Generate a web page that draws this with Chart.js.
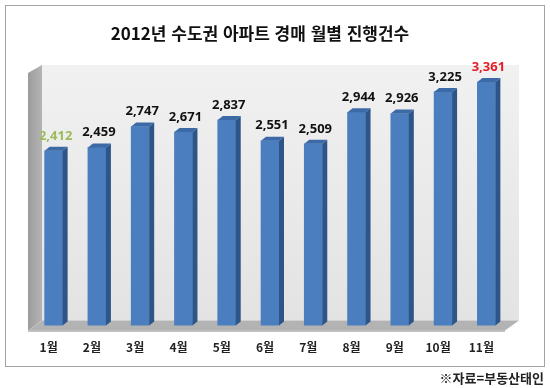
<!DOCTYPE html>
<html lang="ko">
<head>
<meta charset="utf-8">
<script src="https://cdn.jsdelivr.net/npm/chart.js@4.4.1/dist/chart.umd.min.js"></script>
<style>
  html, body { margin: 0; padding: 0; background: #fff; }
  #wrap { position: relative; width: 550px; height: 388px; overflow: hidden; }
  #frame { position: absolute; left: 5px; top: 5px; width: 538px; height: 360px; border: 1px solid #a3a3a3; pointer-events: none; }
  #title { position: absolute; left: 0; top: 20px; width: 520px; text-align: center;
           font: bold 17px "Noto Sans CJK KR", sans-serif; color: #111; }
  #source { position: absolute; right: 6px; top: 368px;
            font: bold 13px "Noto Sans CJK KR", sans-serif; color: #222; }
  canvas { position: absolute; left: 0; top: 0; }
</style>
</head>
<body>
<div id="wrap">
  <canvas id="chart" width="550" height="388"></canvas>
  <div id="frame"></div>
  <div id="title">2012년 수도권 아파트 경매 월별 진행건수</div>
  <div id="source">※자료=부동산태인</div>
</div>
<script>
// 데이터
const months = ['1월', '2월', '3월', '4월', '5월', '6월', '7월', '8월', '9월', '10월', '11월'];
const counts = [2412, 2459, 2747, 2671, 2837, 2551, 2509, 2944, 2926, 3225, 3361];
const yMax = 3500;

// 색상
const frontColor = '#4a7ebf';
const sideColor = '#2d5587';
const topColor = '#3b6aa6';

// 3D 배경 (벽, 바닥)
const scenePlugin = {
    id: 'scene3d',
    beforeDatasetsDraw(chart) {
        const { ctx, chartArea } = chart;
        const { left, right, top, bottom } = chartArea;
        const bx0 = left + 10, bx1 = right + 11, by0 = top - 7, by1 = bottom - 5;
        const fx0 = left - 4, fx1 = right - 3, fy1 = bottom + 5;

        ctx.save();
        // 뒷벽
        let g = ctx.createLinearGradient(0, by0, 0, by1);
        g.addColorStop(0, '#f1f1f1');
        g.addColorStop(1, '#e3e3e3');
        ctx.fillStyle = g;
        ctx.fillRect(bx0, by0, bx1 - bx0, by1 - by0);

        // 왼쪽 벽
        g = ctx.createLinearGradient(fx0, 0, bx0, 0);
        g.addColorStop(0, '#9c9c9c');
        g.addColorStop(1, '#b4b4b4');
        ctx.fillStyle = g;
        ctx.beginPath();
        ctx.moveTo(fx0, top + 1);
        ctx.lineTo(bx0, by0);
        ctx.lineTo(bx0, by1);
        ctx.lineTo(fx0, fy1);
        ctx.closePath();
        ctx.fill();

        // 바닥
        ctx.fillStyle = '#b3b3b3';
        ctx.beginPath();
        ctx.moveTo(fx0, fy1);
        ctx.lineTo(bx0, by1);
        ctx.lineTo(bx1, by1);
        ctx.lineTo(fx1, fy1);
        ctx.closePath();
        ctx.fill();
        ctx.fillStyle = '#9a9a9a';
        ctx.fillRect(fx0, fy1, fx1 - fx0, 1);
        ctx.restore();
    },
    afterDatasetsDraw(chart) {
        const { ctx } = chart;
        const meta = chart.getDatasetMeta(0);
        const dx = 5, dy = -4;
        ctx.save();
        meta.data.forEach((bar, i) => {
            const { x, y, width, base } = bar.getProps(['x', 'y', 'width', 'base'], true);
            const l = x - width / 2, r = x + width / 2;
            // 옆면
            ctx.fillStyle = sideColor;
            ctx.beginPath();
            ctx.moveTo(r, y);
            ctx.lineTo(r + dx, y + dy);
            ctx.lineTo(r + dx, base + dy);
            ctx.lineTo(r, base);
            ctx.closePath();
            ctx.fill();
            // 윗면
            ctx.fillStyle = topColor;
            ctx.beginPath();
            ctx.moveTo(l, y);
            ctx.lineTo(l + dx, y + dy);
            ctx.lineTo(r + dx, y + dy);
            ctx.lineTo(r, y);
            ctx.closePath();
            ctx.fill();

            // 값 라벨
            let color = '#111';
            if (i === 0) color = '#9bbb59';
            if (i === counts.length - 1) color = '#e41e26';
            ctx.fillStyle = color;
            ctx.font = 'bold 13px "Noto Sans", sans-serif';
            ctx.textAlign = 'center';
            ctx.textBaseline = 'middle';
            ctx.fillText(counts[i].toLocaleString('en-US'), x + 2, y - 15);
        });
        ctx.restore();
    }
};

new Chart(document.getElementById('chart').getContext('2d'), {
    type: 'bar',
    data: {
        labels: months,
        datasets: [{
            data: counts,
            backgroundColor: frontColor,
            borderWidth: 0,
            barThickness: 18
        }]
    },
    options: {
        responsive: false,
        animation: false,
        layout: {
            padding: { left: 32, right: 42, top: 72, bottom: 18 }
        },
        plugins: {
            legend: { display: false },
            tooltip: { enabled: false },
            title: { display: false }
        },
        scales: {
            x: {
                grid: { display: false, drawTicks: false },
                border: { display: false },
                ticks: {
                    color: '#222',
                    font: { family: '"Noto Sans CJK KR", sans-serif', size: 12, weight: 'bold' },
                    padding: 15,
                    labelOffset: -5,
                    maxRotation: 0
                }
            },
            y: {
                display: false,
                min: 0,
                max: yMax
            }
        }
    },
    plugins: [scenePlugin]
});
</script>
</body>
</html>
